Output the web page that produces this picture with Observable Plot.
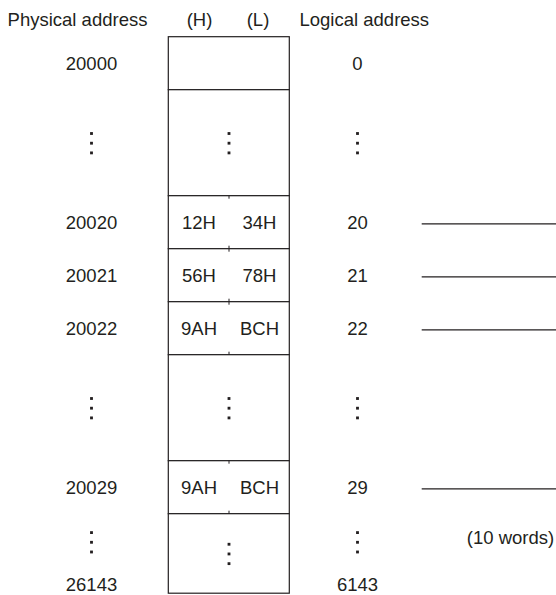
<!DOCTYPE html>
<html>
<head>
<meta charset="utf-8">
<script src="https://cdn.jsdelivr.net/npm/d3@7"></script>
<script src="https://cdn.jsdelivr.net/npm/@observablehq/plot@0.6"></script>
<style>
  html, body { margin: 0; padding: 0; background: #fff; }
  #chart svg { display: block; }
</style>
</head>
<body>
<div id="chart"></div>
<script>
// ---- data ----
const physicalAddress = ["20000", null, "20020", "20021", "20022", null, "20029", null];
const logicalAddress  = ["0",     null, "20",    "21",    "22",    null, "29",    null];
const highByte        = [null,    null, "12H",   "56H",   "9AH",   null, "9AH",   null];
const lowByte         = [null,    null, "34H",   "78H",   "BCH",   null, "BCH",   null];
const lastPhysical = "26143";
const lastLogical = "6143";
const headers = ["Physical address", "(H)", "(L)", "Logical address"];
const noteText = "(10 words)";

// ---- layout (row heights in word units, column positions) ----
const rowUnits = [1, 2, 1, 1, 1, 2, 1, 1.5];
const col = {phys: 91, hi: 198.5, mid: 228.5, lo: 259, boxL: 168.3, boxR: 289.3, logi: 357, linkL: 421.7, linkR: 556, note: 510};
const W = 556, H = 595, boxTop = 36.7, unitPx = 53;
const ink = "#231f20";

let acc = 0;
const rows = rowUnits.map((u, i) => {
  const r = {i, top: acc, bottom: acc + u, mid: acc + u / 2,
    phys: physicalAddress[i], logi: logicalAddress[i], hi: highByte[i], lo: lowByte[i],
    kind: highByte[i] ? "word" : (physicalAddress[i] ? "plain" : (i === rowUnits.length - 1 ? "tail" : "gap"))};
  acc += u;
  return r;
});
const wordRows = rows.filter(r => r.kind === "word");
const labelRows = rows.filter(r => r.phys);
const gapRows = rows.filter(r => r.kind === "gap");
const tailRow = rows.find(r => r.kind === "tail");
const tick = 3 / unitPx;

// ellipsis spots
const ellipses = [];
gapRows.forEach(r => { ellipses.push({x: col.phys, y: r.mid}, {x: col.mid, y: r.mid}, {x: col.logi, y: r.mid}); });
ellipses.push({x: col.phys, y: tailRow.top + 0.53}, {x: col.mid, y: tailRow.mid}, {x: col.logi, y: tailRow.top + 0.53});

const headerCentered = [
  {t: headers[0], x: 77},
  {t: headers[1], x: 199},
  {t: headers[2], x: 257.5}
];
const headerStart = [{t: headers[3], x: 299}];
const headerY = (20 - boxTop) / unitPx;

const fs = 18.5;
const dotMarks = [-9.7, 0, 9.7].map(dy => Plot.dot(ellipses, {x: "x", y: "y", dy, symbol: "square", r: 1.6, fill: ink, stroke: null}));

const chart = Plot.plot({
  width: W, height: H,
  marginTop: 0, marginBottom: 0, marginLeft: 0, marginRight: 0,
  x: {domain: [0, W], range: [0, W], axis: null},
  y: {domain: [-boxTop / unitPx, (H - boxTop) / unitPx], range: [0, H], axis: null},
  style: {fontFamily: "'Liberation Sans', Arial, sans-serif", background: "#fff", color: ink},
  marks: [
    Plot.rect(rows, {x1: () => col.boxL, x2: () => col.boxR, y1: "top", y2: "bottom", fill: "white", stroke: ink, strokeWidth: 1.2}),
    Plot.ruleX(wordRows, {x: () => col.mid, y1: "top", y2: d => d.top + tick, stroke: ink, strokeWidth: 1}),
    Plot.ruleX(wordRows, {x: () => col.mid, y1: d => d.bottom - tick, y2: "bottom", stroke: ink, strokeWidth: 1}),
    Plot.ruleY(wordRows, {y: d => d.mid + 1.2 / unitPx, x1: () => col.linkL, x2: () => col.linkR, stroke: ink, strokeWidth: 1.2}),
    Plot.text(headerCentered, {x: "x", y: () => headerY, text: "t", textAnchor: "middle", fontSize: fs, fill: ink}),
    Plot.text(headerStart, {x: "x", y: () => headerY, text: "t", textAnchor: "start", fontSize: fs, fill: ink}),
    Plot.text(labelRows, {x: () => col.phys, y: "mid", text: "phys", fontSize: fs, fill: ink}),
    Plot.text(labelRows, {x: () => col.logi, y: "mid", text: "logi", fontSize: fs, fill: ink}),
    Plot.text(wordRows, {x: () => col.hi, y: "mid", text: "hi", fontSize: fs, fill: ink}),
    Plot.text(wordRows, {x: () => col.lo, y: "mid", text: "lo", fontSize: fs, fill: ink}),
    Plot.text([lastPhysical], {x: () => col.phys, y: () => tailRow.bottom - 0.17, text: d => d, fontSize: fs, fill: ink}),
    Plot.text([lastLogical], {x: () => col.logi, y: () => tailRow.bottom - 0.17, text: d => d, fontSize: fs, fill: ink}),
    Plot.text([noteText], {x: () => col.note, y: () => tailRow.top + 0.45, text: d => d, fontSize: fs, fill: ink}),
    ...dotMarks
  ]
});
document.getElementById("chart").appendChild(chart);
</script>
</body>
</html>
